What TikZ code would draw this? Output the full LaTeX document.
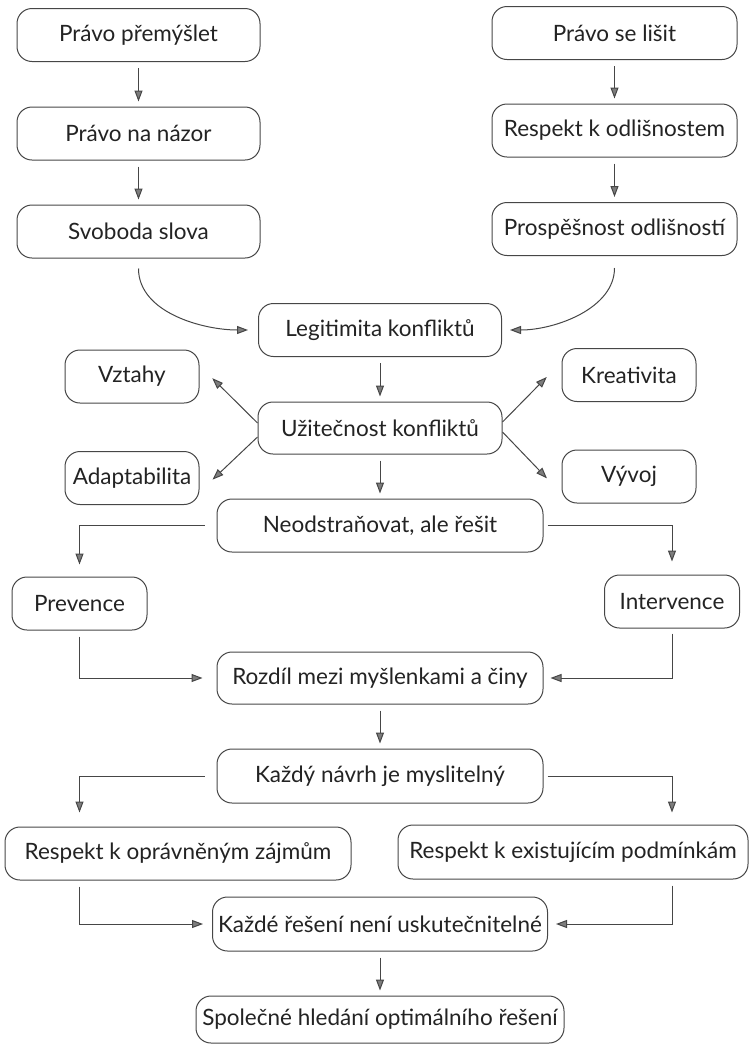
\documentclass[tikz,border=0pt]{standalone}
\usepackage{fontspec}
\setmainfont{Lato}
\usetikzlibrary{arrows.meta, positioning, calc}
\definecolor{LineGray}{RGB}{70,70,70}
\definecolor{TextGray}{RGB}{35,35,35}
\definecolor{TipGray}{RGB}{125,125,125}

\begin{document}
\begin{tikzpicture}[x=1pt,y=1pt,
	box/.style={draw=LineGray,line width=1pt,rounded corners=15pt,inner sep=0pt,
		minimum height=53pt,text=TextGray,font=\fontsize{22.5}{26}\selectfont},
	arr/.style={draw=LineGray,line width=1pt,-{Triangle[length=11pt,width=8pt,fill=TipGray]},
		shorten <=6pt,shorten >=5pt}]
\useasboundingbox (0,0) rectangle (749,-1045);
\node[box,minimum width=243pt] (pprem)  at (138.5,-35)   {Právo přemýšlet};
\node[box,minimum width=243pt] (pnazor) at (138.5,-133.5){Právo na názor};
\node[box,minimum width=243pt] (svoboda) at (138.5,-231.5){Svoboda slova};
\node[box,minimum width=245pt] (plisit) at (614.5,-33)   {Právo se lišit};
\node[box,minimum width=245pt] (rodlis) at (614.5,-130.5){Respekt k odlišnostem};
\node[box,minimum width=245pt] (prosp)  at (614.5,-229)  {Prospěšnost odlišností};
\node[box,minimum width=243pt] (legit)  at (380,-330)    {Legitimita konfliktů};
\node[box,minimum width=134pt] (vztahy) at (132,-376.5)  {Vztahy};
\node[box,minimum width=134pt] (kreat)  at (629,-375)    {Kreativita};
\node[box,minimum width=244pt,minimum height=52pt] (uzit) at (380,-428){Užitečnost konfliktů};
\node[box,minimum width=134pt] (adapt)  at (132,-478)    {Adaptabilita};
\node[box,minimum width=134pt] (vyvoj)  at (629,-476.5)  {Vývoj};
\node[box,minimum width=326pt] (neod)   at (380,-525.5)  {Neodstraňovat, ale řešit};
\node[box,minimum width=135pt] (prev)   at (79.5,-603.5) {Prevence};
\node[box,minimum width=135pt] (interv) at (672,-601.5)  {Intervence};
\node[box,minimum width=326pt,minimum height=52pt] (rozdil) at (380,-678){Rozdíl mezi myšlenkami a činy};
\node[box,minimum width=326pt,minimum height=54pt] (knavrh) at (380,-776){Každý návrh je myslitelný};
\node[box,minimum width=346pt] (ropr)   at (178,-853.5)  {Respekt k oprávněným zájmům};
\node[box,minimum width=350pt,minimum height=54pt] (rexist) at (573,-852){Respekt k existujícím podmínkám};
\node[box,minimum width=335pt,minimum height=54pt] (kreseni) at (380,-924){Každé řešení není uskutečnitelné};
\node[box,minimum width=368pt,minimum height=47pt] (spol) at (380,-1019.5){Společné hledání optimálního řešení};
\foreach \a/\b in {pprem/pnazor,pnazor/svoboda,plisit/rodlis,rodlis/prosp,legit/uzit,uzit/neod,rozdil/knavrh,kreseni/spol}
	\draw[arr] (\a)--(\b);
\draw[arr,shorten <=10pt,shorten >=10pt] (svoboda) to[out=-90,in=180] (legit);
\draw[arr,shorten <=12pt,shorten >=8pt] (prosp) to[out=-90,in=0] (legit);
\draw[arr,shorten <=0pt,shorten >=18pt] ([yshift=5pt]uzit.west) -- ([yshift=11pt]vztahy.east);
\draw[arr,shorten <=0pt,shorten >=18pt] ([yshift=-9pt]uzit.west) -- ([yshift=-14pt]adapt.east);
\draw[arr,shorten <=0pt,shorten >=21pt] ([yshift=6pt]uzit.east) -- ([yshift=13pt]kreat.west);
\draw[arr,shorten <=0pt,shorten >=21pt] ([yshift=-4pt]uzit.east) -- ([yshift=-17pt]vyvoj.west);
\draw[arr,shorten <=12pt,shorten >=12pt] (neod.west) -| (prev.north);
\draw[arr,shorten <=4pt,shorten >=13pt] (neod.east) -| (interv.north);
\draw[arr,shorten <=6pt,shorten >=14pt] (prev.south) |- (rozdil.west);
\draw[arr,shorten <=5pt,shorten >=7pt] (interv.south) |- (rozdil.east);
\draw[arr,shorten <=12pt,shorten >=14pt] (knavrh.west) -| (ropr.north -| prev.south);
\draw[arr,shorten <=4pt,shorten >=12pt] (knavrh.east) -| (rexist.north -| interv.south);
\draw[arr,shorten <=6pt,shorten >=9pt] (ropr.south -| prev.south) |- (kreseni.west);
\draw[arr,shorten <=6pt,shorten >=8pt] (rexist.south -| interv.south) |- (kreseni.east);
\end{tikzpicture}
\end{document}
